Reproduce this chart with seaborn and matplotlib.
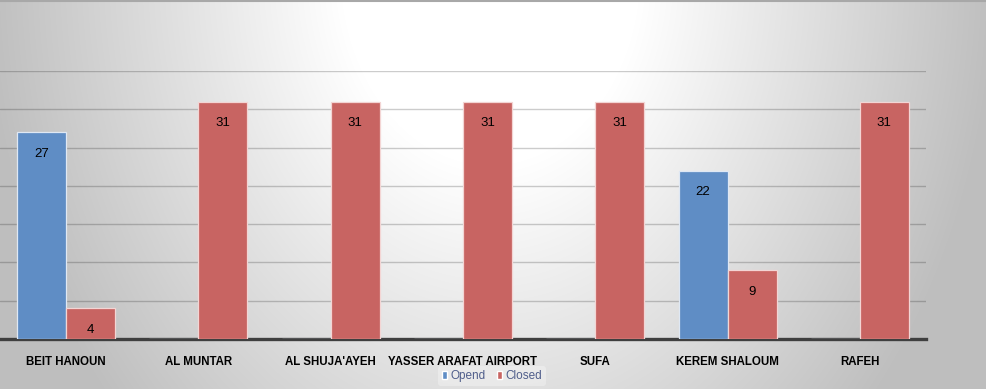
import numpy as np
import pandas as pd
import matplotlib as mpl
mpl.use('Agg')
import matplotlib.pyplot as plt
import seaborn as sns

crossings = ["BEIT HANOUN", "AL MUNTAR", "AL SHUJA'AYEH", "YASSER ARAFAT AIRPORT",
             "SUFA", "KEREM SHALOUM", "RAFEH"]
opend = [27, 0, 0, 0, 0, 22, 0]
closed = [4, 31, 31, 31, 31, 9, 31]
series_names = ["Opend", "Closed"]
colors = ["#5f8dc5", "#c86462"]

df = pd.DataFrame({
    "crossing": crossings * 2,
    "status": [series_names[0]] * len(crossings) + [series_names[1]] * len(crossings),
    "days": opend + closed,
})

sns.set_style("white")
plt.rcParams['font.family'] = ['Liberation Sans', 'DejaVu Sans']

fig = plt.figure(figsize=(9.86, 3.89), dpi=100)

# background: white spot near the top, greyer towards the sides and bottom
bg = fig.add_axes([0, 0, 1, 1], zorder=-10)
xx, yy = np.meshgrid(np.arange(986), np.arange(389))
dist = np.sqrt((xx - 490.0) ** 2 + ((yy + 30.0) / 1.3) ** 2)
shade = np.clip(255 - np.maximum(dist - 150, 0) / 5.5, 190, 255) / 255.0
bg.imshow(np.dstack([shade, shade, shade]), aspect='auto', extent=[0, 986, 389, 0])
bg.axhline(0.5, color='#a8a8a8', lw=1.5)
bg.set_xlim(0, 986)
bg.set_ylim(389, 0)
bg.axis('off')

ax = fig.add_axes([0, 50 / 389, 926 / 986, 268 / 389])
ax.patch.set_alpha(0)
sns.barplot(data=df, x="crossing", y="days", hue="status", hue_order=series_names,
            palette=colors, width=0.74, gap=0, ax=ax, saturation=1, zorder=3)

for cont, edge in zip(ax.containers, ["#dfe8f4", "#f3d5d4"]):
    for p in cont:
        p.set_edgecolor(edge)
        p.set_linewidth(0.9)
    labels = [f"{int(v)}" if v > 0 else "" for v in cont.datavalues]
    ax.bar_label(cont, labels=labels, padding=-20, fontsize=9.5, color='black')

ax.set_ylim(0, 35)
ax.set_xlim(-0.5, len(crossings) - 0.5)
ax.set_yticks(np.arange(5, 36, 5))
ax.yaxis.grid(True, color='black', alpha=0.2, lw=1.0, zorder=0)
ax.set_axisbelow(True)
ax.tick_params(axis='y', left=False, labelleft=False)
ax.tick_params(axis='x', bottom=False, pad=9, labelcolor='black')
for lbl in ax.get_xticklabels():
    lbl.set_fontweight('bold')
    lbl.set_fontsize(8.3)
ax.set_xlabel("")
ax.set_ylabel("")
for s in ["top", "left", "right"]:
    ax.spines[s].set_visible(False)
ax.spines["bottom"].set_color('#3f3f3f')
ax.spines["bottom"].set_linewidth(2.4)

leg = ax.legend(loc='center', bbox_to_anchor=(492 / 926, -37 / 268), ncol=2, frameon=True,
                fontsize=8.5, handlelength=0.45, handleheight=0.65, handletextpad=0.25,
                columnspacing=1.0, borderpad=0.3)
leg.get_frame().set_facecolor('white')
leg.get_frame().set_alpha(0.3)
leg.get_frame().set_edgecolor('none')
for t in leg.get_texts():
    t.set_color('#34457a')
    t.set_alpha(0.85)

fig.savefig("out.png", dpi=100)
